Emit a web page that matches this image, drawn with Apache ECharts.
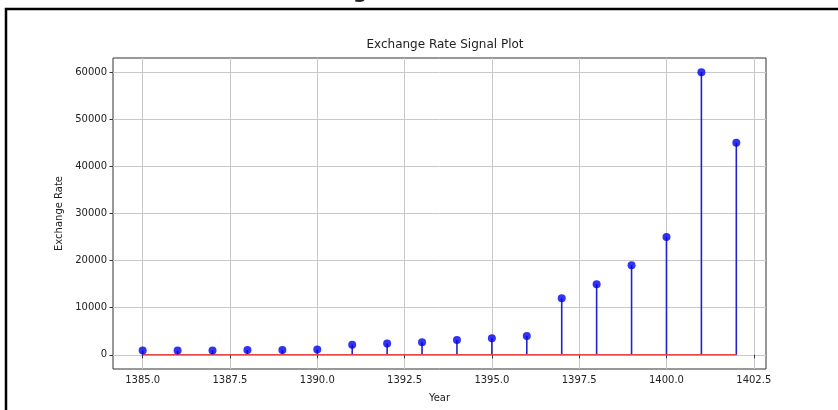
<!DOCTYPE html>
<html>
<head>
<meta charset="utf-8">
<script src="https://cdn.jsdelivr.net/npm/echarts@6/dist/echarts.min.js"></script>
<style>
  html, body { margin: 0; padding: 0; background: #fff; }
  #chart { width: 838px; height: 410px; }
</style>
</head>
<body>
<div id="chart"></div>
<script>
// data
const years = [1385, 1386, 1387, 1388, 1389, 1390, 1391, 1392, 1393, 1394, 1395, 1396, 1397, 1398, 1399, 1400, 1401, 1402];
const rates = [900, 900, 950, 1050, 1050, 1150, 2150, 2400, 2700, 3150, 3500, 4000, 12000, 15000, 19000, 25000, 60000, 45000];
const xTicks = [1385, 1387.5, 1390, 1392.5, 1395, 1397.5, 1400, 1402.5];
const yTicks = [0, 10000, 20000, 30000, 40000, 50000, 60000];

const points = years.map((y, i) => [y, rates[i]]);
const baseline = [[years[0], 0], [years[years.length - 1], 0]];

const chart = echarts.init(document.getElementById("chart"));
const font = "DejaVu Sans";

const option = {
  backgroundColor: "#fff",
  animation: false,
  textStyle: { fontFamily: font },
  title: {
    text: "Exchange Rate Signal Plot",
    left: 440,
    top: 34,
    textAlign: "center",
    textStyle: { fontFamily: font, fontSize: 12, fontWeight: "normal", color: "#222" },
  },
  graphic: [
    {
      type: "rect",
      shape: { x: 6, y: 9, width: 900, height: 500 },
      style: { fill: null, stroke: "#000", lineWidth: 2.5 },
      z: 100,
    },
    {
      // bottom of a cut-off heading above the frame
      type: "text",
      x: 353,
      y: -17,
      style: { text: "g", font: "bold 20px DejaVu Sans", fill: "#222" },
    },
  ],
  grid: {
    left: 113,
    right: 72,
    top: 58,
    bottom: 41,
    show: true,
    borderColor: "#333",
    borderWidth: 1,
  },
  xAxis: {
    type: "value",
    min: 1384.15,
    max: 1402.85,
    name: "Year",
    nameLocation: "middle",
    nameGap: 24,
    nameTextStyle: { fontFamily: font, fontSize: 10, color: "#222" },
    axisLine: { show: false },
    axisTick: { show: true, customValues: xTicks, length: 3.5, lineStyle: { color: "#333" } },
    axisLabel: {
      customValues: xTicks,
      formatter: (v) => v.toFixed(1),
      fontFamily: font,
      fontSize: 10,
      color: "#222",
      margin: 6,
    },
    splitLine: { show: true, lineStyle: { color: "#c8c8c8", width: 1 } },
  },
  yAxis: {
    type: "value",
    min: -3000,
    max: 63000,
    name: "Exchange Rate",
    nameLocation: "middle",
    nameGap: 47,
    nameTextStyle: { fontFamily: font, fontSize: 10, color: "#222" },
    axisLine: { show: false },
    axisTick: { show: true, customValues: yTicks, length: 3.5, lineStyle: { color: "#333" } },
    axisLabel: {
      customValues: yTicks,
      formatter: (v) => String(v),
      fontFamily: font,
      fontSize: 10,
      color: "#222",
      margin: 6,
    },
    splitLine: { show: true, lineStyle: { color: "#c8c8c8", width: 1 } },
  },
  series: [
    {
      name: "stems",
      type: "custom",
      data: points,
      encode: { x: 0, y: 1 },
      z: 2,
      renderItem: (params, api) => {
        const p0 = api.coord([api.value(0), 0]);
        const p1 = api.coord([api.value(0), api.value(1)]);
        return {
          type: "line",
          shape: { x1: p0[0], y1: p0[1], x2: p1[0], y2: p1[1] },
          style: { stroke: "#2222cc", lineWidth: 1.6 },
        };
      },
    },
    {
      name: "baseline",
      type: "line",
      data: baseline,
      symbol: "none",
      z: 3,
      lineStyle: { color: "#e34848", width: 1.5 },
    },
    {
      name: "markers",
      type: "scatter",
      data: points,
      symbol: "circle",
      symbolSize: 8,
      z: 4,
      itemStyle: { color: "#0000ee" },
    },
  ],
};

chart.setOption(option);
</script>
</body>
</html>
